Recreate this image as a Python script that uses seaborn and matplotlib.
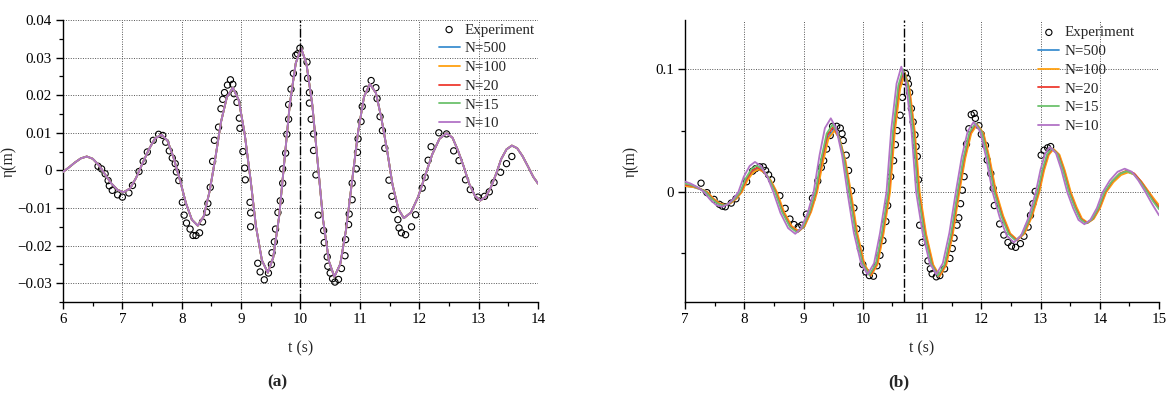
import matplotlib
matplotlib.use("Agg")
import matplotlib.pyplot as plt
import seaborn as sns
from matplotlib.ticker import MultipleLocator, FixedLocator, FuncFormatter

# ---------------- Panel (a) ----------------
t_exp_a = [6.59, 6.65, 6.71, 6.76, 6.78, 6.83, 6.92, 7.00, 7.11, 7.17, 7.28, 7.35, 7.42, 7.52,
           7.61, 7.68, 7.73, 7.79, 7.84, 7.89, 7.91, 7.95, 8.01, 8.04, 8.08, 8.14, 8.19, 8.24,
           8.30, 8.35, 8.42, 8.44, 8.48, 8.52, 8.55, 8.62, 8.66, 8.69, 8.72, 8.77, 8.82, 8.86,
           8.88, 8.93, 8.97, 8.98, 9.03, 9.06, 9.07, 9.15, 9.16, 9.16, 9.28, 9.32, 9.39, 9.46,
           9.51, 9.52, 9.56, 9.58, 9.62, 9.66, 9.70, 9.70, 9.75, 9.77, 9.80, 9.80, 9.84, 9.88,
           9.92, 9.95, 9.99, 10.11, 10.12, 10.15, 10.15, 10.18, 10.22, 10.22, 10.26, 10.30,
           10.39, 10.40, 10.45, 10.46, 10.50, 10.54, 10.58, 10.64, 10.69, 10.75, 10.76, 10.81,
           10.82, 10.87, 10.87, 10.94, 10.96, 10.97, 11.02, 11.04, 11.11, 11.19, 11.27, 11.29,
           11.34, 11.38, 11.42, 11.49, 11.54, 11.57, 11.64, 11.66, 11.70, 11.77, 11.87, 11.94,
           12.05, 12.10, 12.15, 12.20, 12.33, 12.46, 12.58, 12.67, 12.78, 12.86, 12.99, 13.10,
           13.18, 13.26, 13.37, 13.47, 13.56]
eta_exp_a = [0.0011, 0.0004, -0.0009, -0.0027, -0.0041, -0.0053, -0.0065, -0.0071, -0.0060,
             -0.0040, -0.0003, 0.0024, 0.0049, 0.0080, 0.0096, 0.0093, 0.0075, 0.0052, 0.0033,
             0.0018, -0.0004, -0.0027, -0.0085, -0.0119, -0.0140, -0.0156, -0.0173, -0.0173,
             -0.0166, -0.0137, -0.0111, -0.0088, -0.0045, 0.0024, 0.0080, 0.0115, 0.0164,
             0.0189, 0.0207, 0.0227, 0.0241, 0.0229, 0.0204, 0.0181, 0.0139, 0.0112, 0.0050,
             0.0006, -0.0025, -0.0085, -0.0113, -0.0150, -0.0247, -0.0270, -0.0291, -0.0273,
             -0.0250, -0.0219, -0.0190, -0.0156, -0.0112, -0.0081, -0.0034, 0.0004, 0.0046,
             0.0096, 0.0136, 0.0175, 0.0216, 0.0258, 0.0306, 0.0310, 0.0325, 0.0288, 0.0245,
             0.0207, 0.0179, 0.0136, 0.0097, 0.0053, -0.0012, -0.0119, -0.0160, -0.0192,
             -0.0230, -0.0255, -0.0273, -0.0288, -0.0297, -0.0290, -0.0261, -0.0227, -0.0184,
             -0.0144, -0.0116, -0.0078, -0.0034, 0.0004, 0.0048, 0.0084, 0.0130, 0.0170,
             0.0216, 0.0239, 0.0220, 0.0191, 0.0143, 0.0106, 0.0059, -0.0026, -0.0069,
             -0.0104, -0.0131, -0.0153, -0.0166, -0.0171, -0.0150, -0.0118, -0.0047, -0.0018,
             0.0027, 0.0063, 0.0100, 0.0097, 0.0052, 0.0026, -0.0025, -0.0051, -0.0071,
             -0.0069, -0.0057, -0.0032, -0.0005, 0.0018, 0.0037]

t_sim_a = [6.00, 6.10, 6.20, 6.30, 6.40, 6.50, 6.61, 6.71, 6.81, 6.92, 7.02, 7.13, 7.23, 7.34,
           7.45, 7.55, 7.66, 7.76, 7.86, 7.97, 8.07, 8.17, 8.27, 8.37, 8.47, 8.57, 8.66, 8.76,
           8.86, 8.96, 9.06, 9.16, 9.25, 9.35, 9.45, 9.54, 9.64, 9.73, 9.82, 9.92, 10.01, 10.10,
           10.20, 10.29, 10.38, 10.48, 10.57, 10.67, 10.77, 10.87, 10.97, 11.07, 11.17, 11.27,
           11.36, 11.46, 11.55, 11.65, 11.74, 11.86, 11.98, 12.10, 12.22, 12.34, 12.46, 12.56,
           12.65, 12.75, 12.84, 12.94, 13.03, 13.12, 13.21, 13.30, 13.38, 13.47, 13.56, 13.65,
           13.74, 13.83, 13.92, 14.00]
# all five resolutions coincide visually in panel (a)
eta_sim_a = [-0.0004, 0.0008, 0.0021, 0.0032, 0.0037, 0.0031, 0.0013, -0.0011, -0.0034, -0.0052,
             -0.0058, -0.0048, -0.0020, 0.0019, 0.0057, 0.0085, 0.0095, 0.0079, 0.0035, -0.0026,
             -0.0087, -0.0131, -0.0147, -0.0122, -0.0055, 0.0037, 0.0128, 0.0195, 0.0220, 0.0187,
             0.0097, -0.0026, -0.0149, -0.0239, -0.0272, -0.0232, -0.0123, 0.0027, 0.0176, 0.0285,
             0.0325, 0.0284, 0.0173, 0.0021, -0.0131, -0.0242, -0.0283, -0.0249, -0.0155, -0.0027,
             0.0102, 0.0196, 0.0230, 0.0206, 0.0141, 0.0052, -0.0038, -0.0103, -0.0127, -0.0112,
             -0.0071, -0.0014, 0.0043, 0.0084, 0.0099, 0.0087, 0.0054, 0.0010, -0.0035, -0.0068,
             -0.0080, -0.0070, -0.0044, -0.0007, 0.0030, 0.0056, 0.0066, 0.0059, 0.0038, 0.0011,
             -0.0017, -0.0035]
t_mark_a = 10.0

# ---------------- Panel (b) ----------------
t_exp_b = [7.27, 7.37, 7.49, 7.58, 7.63, 7.68, 7.78, 7.86, 8.04, 8.14, 8.19, 8.26, 8.32, 8.36,
           8.41, 8.46, 8.60, 8.69, 8.77, 8.84, 8.91, 8.97, 9.05, 9.15, 9.24, 9.30, 9.34, 9.39,
           9.45, 9.49, 9.56, 9.62, 9.65, 9.67, 9.72, 9.76, 9.81, 9.85, 9.90, 9.96, 10.00, 10.05,
           10.11, 10.18, 10.24, 10.29, 10.34, 10.39, 10.42, 10.47, 10.52, 10.55, 10.58, 10.63,
           10.67, 10.70, 10.72, 10.75, 10.77, 10.79, 10.82, 10.85, 10.88, 10.90, 10.92, 10.94,
           10.96, 11.00, 11.10, 11.14, 11.17, 11.24, 11.30, 11.38, 11.47, 11.51, 11.54, 11.59,
           11.62, 11.65, 11.68, 11.71, 11.75, 11.79, 11.83, 11.88, 11.90, 11.96, 12.00, 12.07,
           12.10, 12.16, 12.20, 12.22, 12.31, 12.38, 12.45, 12.51, 12.58, 12.66, 12.72, 12.79,
           12.83, 12.87, 12.91, 13.01, 13.06, 13.12, 13.17]
eta_exp_b = [0.0072, -0.0005, -0.0060, -0.0100, -0.0115, -0.0120, -0.0090, -0.0055, 0.0084,
             0.0170, 0.0190, 0.0205, 0.0205, 0.0175, 0.0140, 0.0100, -0.0030, -0.0133, -0.0220,
             -0.0265, -0.0285, -0.0270, -0.0180, -0.0050, 0.0090, 0.0200, 0.0255, 0.0350, 0.0460,
             0.0535, 0.0535, 0.0520, 0.0475, 0.0420, 0.0300, 0.0175, 0.0010, -0.0130, -0.0300,
             -0.0460, -0.0590, -0.0650, -0.0680, -0.0685, -0.0600, -0.0515, -0.0395, -0.0240,
             -0.0110, 0.0125, 0.0255, 0.0385, 0.0500, 0.0625, 0.0770, 0.0900, 0.0965, 0.0925,
             0.0880, 0.0810, 0.0680, 0.0570, 0.0465, 0.0370, 0.0290, 0.0100, -0.0270, -0.0410,
             -0.0560, -0.0625, -0.0665, -0.0690, -0.0680, -0.0625, -0.0540, -0.0460, -0.0375,
             -0.0270, -0.0210, -0.0095, 0.0015, 0.0125, 0.0390, 0.0515, 0.0630, 0.0640, 0.0600,
             0.0540, 0.0470, 0.0380, 0.0260, 0.0150, 0.0030, -0.0110, -0.0260, -0.0350, -0.0410,
             -0.0440, -0.0450, -0.0420, -0.0360, -0.0285, -0.0190, -0.0095, 0.0005, 0.0300,
             0.0340, 0.0360, 0.0370]

t_b_n500 = [7.00, 7.14, 7.26, 7.37, 7.47, 7.57, 7.67, 7.76, 7.86, 7.95, 8.04, 8.14, 8.23, 8.33,
            8.44, 8.54, 8.66, 8.79, 8.91, 9.01, 9.12, 9.22, 9.32, 9.41, 9.51, 9.60, 9.70, 9.79,
            9.90, 10.02, 10.13, 10.24, 10.34, 10.45, 10.53, 10.62, 10.70, 10.78, 10.87, 10.95,
            11.06, 11.18, 11.29, 11.40, 11.51, 11.62, 11.72, 11.82, 11.92, 12.03, 12.13, 12.24,
            12.36, 12.48, 12.60, 12.72, 12.85, 12.97, 13.05, 13.13, 13.21, 13.31, 13.40, 13.50,
            13.60, 13.69, 13.79, 13.89, 14.00, 14.10, 14.22, 14.35, 14.47, 14.59, 14.70, 14.82,
            14.92, 15.02]
eta_b_n500 = [0.0050, 0.0040, 0.0022, 0.0, -0.0053, -0.0092, -0.0106, -0.0092, -0.0053, 0.0,
              0.0095, 0.0165, 0.0190, 0.0165, 0.0095, 0.0, -0.0161, -0.0279, -0.0322, -0.0279,
              -0.0161, 0.0, 0.0255, 0.0442, 0.0510, 0.0442, 0.0255, 0.0, -0.0340, -0.0589,
              -0.0680, -0.0589, -0.0340, 0.0, 0.0490, 0.0849, 0.0980, 0.0849, 0.0490, 0.0,
              -0.0343, -0.0593, -0.0685, -0.0593, -0.0343, 0.0, 0.0276, 0.0478, 0.0552, 0.0478,
              0.0276, 0.0, -0.0195, -0.0338, -0.0390, -0.0338, -0.0195, 0.0, 0.0175, 0.0303,
              0.0350, 0.0303, 0.0175, 0.0, -0.0126, -0.0218, -0.0252, -0.0218, -0.0126, 0.0,
              0.0082, 0.0143, 0.0165, 0.0143, 0.0082, 0.0, -0.0068, -0.0128]

t_b_n100 = [7.00, 7.15, 7.27, 7.38, 7.48, 7.58, 7.68, 7.77, 7.87, 7.96, 8.05, 8.15, 8.24, 8.34,
            8.45, 8.55, 8.67, 8.80, 8.92, 9.02, 9.13, 9.23, 9.33, 9.42, 9.52, 9.61, 9.71, 9.80,
            9.91, 10.03, 10.14, 10.25, 10.35, 10.46, 10.54, 10.63, 10.71, 10.79, 10.88, 10.96,
            11.07, 11.19, 11.30, 11.41, 11.52, 11.63, 11.73, 11.83, 11.93, 12.04, 12.14, 12.25,
            12.37, 12.49, 12.61, 12.73, 12.86, 12.98, 13.06, 13.14, 13.22, 13.32, 13.41, 13.51,
            13.61, 13.70, 13.80, 13.90, 14.01, 14.11, 14.23, 14.36, 14.48, 14.60, 14.71, 14.83,
            14.93, 15.03]
eta_b_n100 = [0.0048, 0.0040, 0.0022, 0.0, -0.0053, -0.0091, -0.0105, -0.0091, -0.0053, 0.0,
              0.0093, 0.0160, 0.0185, 0.0160, 0.0093, 0.0, -0.0160, -0.0277, -0.0320, -0.0277,
              -0.0160, 0.0, 0.0250, 0.0433, 0.0500, 0.0433, 0.0250, 0.0, -0.0340, -0.0589,
              -0.0680, -0.0589, -0.0340, 0.0, 0.0485, 0.0840, 0.0970, 0.0840, 0.0485, 0.0,
              -0.0343, -0.0593, -0.0685, -0.0593, -0.0343, 0.0, 0.0275, 0.0476, 0.0550, 0.0476,
              0.0275, 0.0, -0.0195, -0.0338, -0.0390, -0.0338, -0.0195, 0.0, 0.0175, 0.0303,
              0.0350, 0.0303, 0.0175, 0.0, -0.0125, -0.0217, -0.0250, -0.0217, -0.0125, 0.0,
              0.0080, 0.0139, 0.0160, 0.0139, 0.0080, 0.0, -0.0065, -0.0125]

t_b_n20 = [7.00, 7.13, 7.25, 7.36, 7.46, 7.56, 7.66, 7.75, 7.85, 7.94, 8.03, 8.13, 8.22, 8.32,
           8.43, 8.53, 8.65, 8.78, 8.90, 9.00, 9.11, 9.21, 9.31, 9.40, 9.50, 9.59, 9.69, 9.78,
           9.89, 10.01, 10.12, 10.23, 10.33, 10.44, 10.52, 10.61, 10.69, 10.77, 10.86, 10.94,
           11.05, 11.17, 11.28, 11.39, 11.50, 11.61, 11.71, 11.81, 11.91, 12.02, 12.12, 12.23,
           12.35, 12.47, 12.59, 12.71, 12.84, 12.96, 13.04, 13.12, 13.20, 13.30, 13.39, 13.49,
           13.59, 13.68, 13.78, 13.88, 13.99, 14.09, 14.21, 14.34, 14.46, 14.58, 14.69, 14.81,
           14.91, 15.01]
eta_b_n20 = [0.0060, 0.0050, 0.0028, 0.0, -0.0054, -0.0094, -0.0108, -0.0094, -0.0054, 0.0,
             0.0100, 0.0173, 0.0200, 0.0173, 0.0100, 0.0, -0.0163, -0.0281, -0.0325, -0.0281,
             -0.0163, 0.0, 0.0265, 0.0459, 0.0530, 0.0459, 0.0265, 0.0, -0.0339, -0.0587,
             -0.0678, -0.0587, -0.0339, 0.0, 0.0495, 0.0857, 0.0990, 0.0857, 0.0495, 0.0,
             -0.0342, -0.0592, -0.0683, -0.0592, -0.0342, 0.0, 0.0278, 0.0481, 0.0555, 0.0481,
             0.0278, 0.0, -0.0196, -0.0339, -0.0392, -0.0339, -0.0196, 0.0, 0.0176, 0.0305,
             0.0352, 0.0305, 0.0176, 0.0, -0.0127, -0.0219, -0.0253, -0.0219, -0.0127, 0.0,
             0.0088, 0.0152, 0.0175, 0.0152, 0.0088, 0.0, -0.0072, -0.0135]

t_b_n15 = [7.00, 7.12, 7.24, 7.35, 7.45, 7.55, 7.65, 7.74, 7.84, 7.93, 8.02, 8.12, 8.21, 8.31,
           8.42, 8.52, 8.64, 8.77, 8.89, 8.99, 9.10, 9.20, 9.30, 9.39, 9.49, 9.58, 9.68, 9.77,
           9.88, 10.00, 10.11, 10.22, 10.32, 10.43, 10.51, 10.60, 10.68, 10.76, 10.85, 10.93,
           11.04, 11.16, 11.27, 11.38, 11.49, 11.60, 11.70, 11.80, 11.90, 12.01, 12.11, 12.22,
           12.34, 12.46, 12.58, 12.70, 12.83, 12.95, 13.03, 13.11, 13.19, 13.29, 13.38, 13.48,
           13.58, 13.67, 13.77, 13.87, 13.98, 14.08, 14.20, 14.33, 14.45, 14.57, 14.68, 14.80,
           14.90, 15.00]
eta_b_n15 = [0.0070, 0.0055, 0.0030, 0.0, -0.0055, -0.0095, -0.0110, -0.0095, -0.0055, 0.0,
             0.0108, 0.0186, 0.0215, 0.0186, 0.0108, 0.0, -0.0164, -0.0284, -0.0328, -0.0284,
             -0.0164, 0.0, 0.0275, 0.0476, 0.0550, 0.0476, 0.0275, 0.0, -0.0338, -0.0585,
             -0.0675, -0.0585, -0.0338, 0.0, 0.0500, 0.0866, 0.1000, 0.0866, 0.0500, 0.0,
             -0.0340, -0.0589, -0.0680, -0.0589, -0.0340, 0.0, 0.0280, 0.0485, 0.0560, 0.0485,
             0.0280, 0.0, -0.0198, -0.0342, -0.0395, -0.0342, -0.0198, 0.0, 0.0178, 0.0307,
             0.0355, 0.0307, 0.0178, 0.0, -0.0128, -0.0221, -0.0255, -0.0221, -0.0128, 0.0,
             0.0085, 0.0147, 0.0170, 0.0147, 0.0085, 0.0, -0.0075, -0.0140]

t_b_n10 = [6.97, 7.09, 7.21, 7.32, 7.42, 7.52, 7.62, 7.71, 7.81, 7.90, 7.99, 8.09, 8.18, 8.28,
           8.39, 8.49, 8.61, 8.74, 8.86, 8.96, 9.07, 9.17, 9.27, 9.36, 9.46, 9.55, 9.65, 9.74,
           9.85, 9.97, 10.08, 10.19, 10.29, 10.40, 10.48, 10.57, 10.65, 10.73, 10.82, 10.90,
           11.01, 11.13, 11.24, 11.35, 11.46, 11.57, 11.67, 11.77, 11.87, 11.98, 12.08, 12.19,
           12.31, 12.43, 12.55, 12.67, 12.80, 12.92, 13.00, 13.08, 13.16, 13.26, 13.35, 13.45,
           13.55, 13.64, 13.74, 13.84, 13.95, 14.05, 14.17, 14.30, 14.42, 14.54, 14.65, 14.77,
           14.88, 15.00]
eta_b_n10 = [0.0090, 0.0070, 0.0040, 0.0, -0.0060, -0.0104, -0.0120, -0.0104, -0.0060, 0.0,
             0.0123, 0.0212, 0.0245, 0.0212, 0.0123, 0.0, -0.0170, -0.0294, -0.0340, -0.0294,
             -0.0170, 0.0, 0.0300, 0.0520, 0.0600, 0.0520, 0.0300, 0.0, -0.0335, -0.0580,
             -0.0670, -0.0580, -0.0335, 0.0, 0.0510, 0.0883, 0.1020, 0.0883, 0.0510, 0.0,
             -0.0335, -0.0580, -0.0670, -0.0580, -0.0335, 0.0, 0.0285, 0.0494, 0.0570, 0.0494,
             0.0285, 0.0, -0.0205, -0.0355, -0.0410, -0.0355, -0.0205, 0.0, 0.0183, 0.0316,
             0.0365, 0.0316, 0.0183, 0.0, -0.0131, -0.0227, -0.0262, -0.0227, -0.0131, 0.0,
             0.0095, 0.0165, 0.0190, 0.0165, 0.0095, 0.0, -0.0095, -0.0190]
t_mark_b = 10.70

labels = ["N=500", "N=100", "N=20", "N=15", "N=10"]
colors = ["#3d8fd0", "#ffa010", "#ee3b30", "#6cc26c", "#b273c6"]

# ---------------- Styling ----------------
sns.set_style("ticks")
plt.rcParams["font.family"] = ["Liberation Serif", "DejaVu Serif"]
plt.rcParams["axes.unicode_minus"] = True
FS = 10.8

fig = plt.figure(figsize=(11.69, 3.94), dpi=100)
axA = fig.add_axes([0.0539, 0.2335, 0.4063, 0.7157])
axB = fig.add_axes([0.5860, 0.2335, 0.4055, 0.7157])


def style_axis(ax, xlim, ylim, yfmt):
    ax.set_xlim(*xlim)
    ax.set_ylim(*ylim)
    for s in ["top", "right"]:
        ax.spines[s].set_visible(False)
    for s in ["left", "bottom"]:
        ax.spines[s].set_color("black")
        ax.spines[s].set_linewidth(1.0)
    ax.xaxis.set_major_locator(MultipleLocator(1))
    ax.xaxis.set_minor_locator(MultipleLocator(0.5))
    ax.yaxis.set_major_formatter(FuncFormatter(yfmt))
    ax.tick_params(which="major", direction="out", length=5, width=1.0,
                   labelsize=FS, colors="black", pad=3)
    ax.tick_params(which="minor", direction="out", length=3, width=0.9, colors="black")
    ax.grid(True, which="major", linestyle=(0, (1, 1.5)), color="#555555", linewidth=0.7)
    ax.set_axisbelow(True)
    ax.set_xlabel("t (s)", fontsize=FS + 0.5)
    ax.set_ylabel("η(m)", fontsize=FS + 0.5)


def fmt_a(v, pos):
    if abs(v) < 1e-9:
        return "0"
    return f"{v:.2f}".replace("-", "\u2212")


def fmt_b(v, pos):
    if abs(v) < 1e-9:
        return "0"
    return f"{v:.1f}".replace("-", "\u2212")


def draw_panel(ax, t_exp, e_exp, sims, t_mark):
    sns.scatterplot(x=t_exp, y=e_exp, ax=ax, marker="o", s=20, facecolor="none",
                    edgecolor="black", linewidth=0.8, label="Experiment", zorder=3)
    for (tt, ee), lab, col in zip(sims, labels, colors):
        sns.lineplot(x=tt, y=ee, ax=ax, color=col, linewidth=1.3, label=lab,
                     sort=False, estimator=None, zorder=4)
    ax.axvline(t_mark, color="black", linestyle="-.", linewidth=1.0, zorder=5)


draw_panel(axA, t_exp_a, eta_exp_a,
           [(t_sim_a, eta_sim_a)] * 5, t_mark_a)
draw_panel(axB, t_exp_b, eta_exp_b,
           [(t_b_n500, eta_b_n500), (t_b_n100, eta_b_n100), (t_b_n20, eta_b_n20),
            (t_b_n15, eta_b_n15), (t_b_n10, eta_b_n10)], t_mark_b)

style_axis(axA, (6, 14), (-0.035, 0.04), fmt_a)
axA.yaxis.set_major_locator(MultipleLocator(0.01))
axA.yaxis.set_minor_locator(MultipleLocator(0.005))

style_axis(axB, (7, 15), (-0.0895, 0.14), fmt_b)
axB.yaxis.set_major_locator(FixedLocator([0.0, 0.1]))
axB.yaxis.set_minor_locator(MultipleLocator(0.05))

for ax, lx in [(axA, -0.097), (axB, -0.097)]:
    ax.yaxis.set_label_coords(lx, 0.5)
    ax.xaxis.set_label_coords(0.5, -0.135)

legA = axA.legend(loc="upper right", bbox_to_anchor=(1.0, 1.0), frameon=False,
                  fontsize=FS, handlelength=1.4, handletextpad=0.35, labelspacing=0.35,
                  borderaxespad=0.0, borderpad=0.2)
legB = axB.legend(loc="upper right", bbox_to_anchor=(0.955, 0.99), frameon=False,
                  fontsize=FS, handlelength=1.4, handletextpad=0.35, labelspacing=0.35,
                  borderaxespad=0.0, borderpad=0.2)
for leg in (legA, legB):
    leg.set_zorder(10)

fig.text(0.2374, 0.0305, "(a)", fontsize=12.5, fontweight="bold", ha="center", va="center")
fig.text(0.769, 0.0305, "(b)", fontsize=12.5, fontweight="bold", ha="center", va="center")

fig.savefig("out.png", dpi=100)
